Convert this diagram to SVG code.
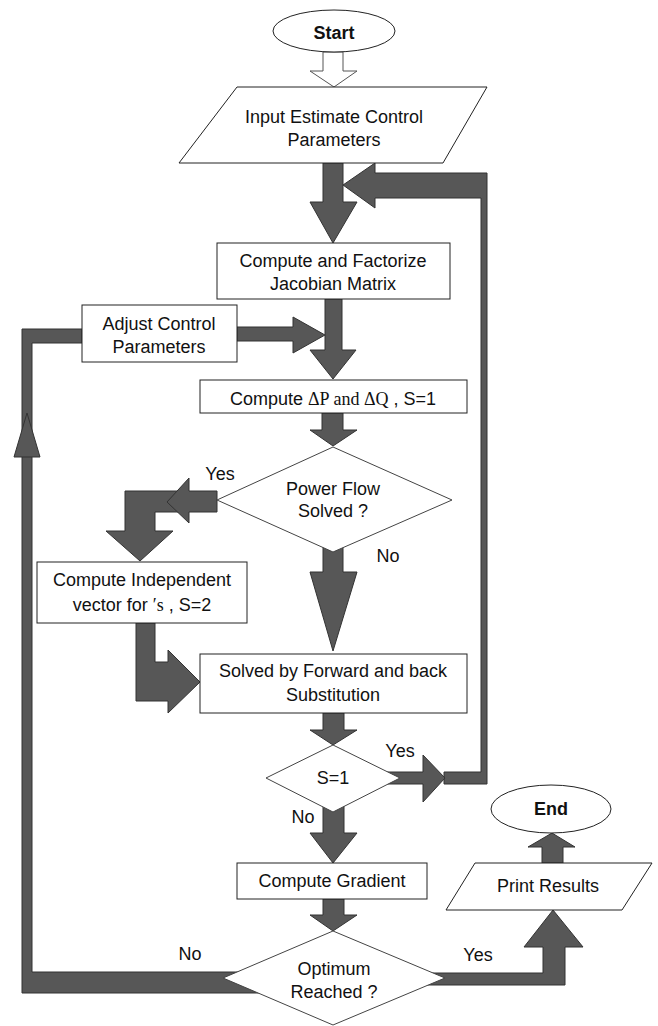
<svg xmlns="http://www.w3.org/2000/svg" width="658" height="1026" viewBox="0 0 658 1026">
<style>
.box{fill:#fff;stroke:#222;stroke-width:1}
.dia{fill:#fff;stroke:#444;stroke-width:1}
.arr{fill:#575757;stroke:#333;stroke-width:1;stroke-linejoin:miter}
.hollow{fill:#fff;stroke:#555;stroke-width:1}
.t{font-family:"Liberation Sans",Arial,sans-serif;font-size:18px;fill:#111;text-anchor:middle}
.b{font-weight:bold}
.m{font-family:"Liberation Serif","Times New Roman",serif}
</style>
<rect width="658" height="1026" fill="#fff"/>
<g id="connectors">
  <!-- Start -> Input (hollow) -->
  <polygon class="hollow" points="323,52 343,52 343,71 357,71 334,87 310,71 323,71"/>
  <!-- Input -> Jacobian -->
  <polygon class="arr" points="323,163 343,163 343,202 357,202 333,243 310,202 323,202"/>
  <!-- feedback loop from S=1 yes back to top -->
  <polygon class="arr" points="375,173 487,173 487,784 444,784 444,772 481,772 481,198 375,198 375,208 343,185 375,163"/>
  <!-- Jacobian -> dP -->
  <polygon class="arr" points="325,299 342,299 342,350 356,350 333,379 310,350 325,350"/>
  <!-- Adjust -> dP -->
  <polygon class="arr" points="237,327 293,327 293,317 325,335 293,353 293,341 237,341"/>
  <!-- Left loop: Optimum No -> Adjust -->
  <polygon class="arr" points="82,329 22,329 22,993 260,993 260,972 32,972 32,343 82,343"/>
  <polygon class="arr" points="27,413 40,457 14,457"/>
  <!-- dP -> Power Flow -->
  <polygon class="arr" points="322,413 343,413 343,430 357,430 333,446 310,430 322,430"/>
  <!-- Power Flow Yes -> Independent -->
  <polygon class="arr" points="189,491 125,491 125,531 106,531 140,561 173,531 155,531 155,512 189,512"/>
  <polygon class="arr" points="217,491 189,491 189,478 167,502 189,523 189,512 217,512"/>
  <!-- Power Flow No -> Solved -->
  <polygon class="arr" points="323,545 343,545 343,572 357,572 333,651 310,572 323,572"/>
  <!-- Independent -> Solved -->
  <polygon class="arr" points="136,623 155,623 155,662 168,662 168,650 200,682 168,713 168,701 136,701"/>
  <!-- Solved -> S=1 -->
  <polygon class="arr" points="323,713 344,713 344,730 357,730 333,745 310,730 323,730"/>
  <!-- S=1 Yes -->
  <polygon class="arr" points="387,772 423,772 423,755 445,778 423,802 423,784 387,784"/>
  <!-- S=1 No -> Gradient -->
  <polygon class="arr" points="323,805 344,805 344,833 357,833 333,863 310,833 323,833"/>
  <!-- Gradient -> Optimum -->
  <polygon class="arr" points="323,899 344,899 344,915 357,915 333,931 310,915 323,915"/>
  <!-- Optimum Yes -> Print -->
  <polygon class="arr" points="400,973 543,973 543,947 524,947 553,910 583,947 565,947 565,985 400,985"/>
  <!-- Print -> End -->
  <polygon class="arr" points="542,863 563,863 563,847 575,847 552,833 528,847 542,847"/>
  <!-- labels -->
  <text class="t" x="220" y="480">Yes</text>
  <text class="t" x="388" y="562">No</text>
  <text class="t" x="400" y="757">Yes</text>
  <text class="t" x="303" y="823">No</text>
  <text class="t" x="478" y="961">Yes</text>
  <text class="t" x="190" y="960">No</text>
</g>
<g id="start">
  <ellipse cx="334" cy="31" rx="61" ry="21" class="box" stroke="#555"/>
  <text class="t b" x="334" y="39" font-size="19">Start</text>
</g>
<g id="input">
  <polygon class="box" points="237,87 487,87 443,163 179,163"/>
  <text class="t" x="334" y="123">Input Estimate Control</text>
  <text class="t" x="334" y="146">Parameters</text>
</g>
<g id="jacobian">
  <rect class="box" x="217" y="243" width="233" height="56"/>
  <text class="t" x="333" y="267">Compute and Factorize</text>
  <text class="t" x="333" y="290">Jacobian Matrix</text>
</g>
<g id="adjust">
  <rect class="box" x="82" y="305" width="155" height="57"/>
  <text class="t" x="159" y="330">Adjust Control</text>
  <text class="t" x="159" y="353">Parameters</text>
</g>
<g id="deltaPQ">
  <rect class="box" x="200" y="380" width="267" height="33"/>
  <text class="t" x="333" y="405">Compute <tspan class="m">ΔP and ΔQ</tspan> , S=1</text>
</g>
<g id="powerflow">
  <polygon class="dia" points="333,447 452,500 333,552 217,500"/>
  <text class="t" x="333" y="495">Power Flow</text>
  <text class="t" x="333" y="517">Solved ?</text>
</g>
<g id="independent">
  <rect class="box" x="37" y="562" width="210" height="61"/>
  <text class="t" x="142" y="586">Compute Independent</text>
  <text class="t" x="142" y="611">vector for <tspan class="m">′s</tspan> , S=2</text>
</g>
<g id="solved">
  <rect class="box" x="200" y="654" width="267" height="59"/>
  <text class="t" x="333" y="677">Solved by Forward and back</text>
  <text class="t" x="333" y="701">Substitution</text>
</g>
<g id="s1">
  <polygon class="dia" points="333,745 400,778 333,812 266,778"/>
  <text class="t" x="333" y="784">S=1</text>
</g>
<g id="gradient">
  <rect class="box" x="237" y="863" width="190" height="36"/>
  <text class="t" x="332" y="887">Compute Gradient</text>
</g>
<g id="optimum">
  <polygon class="dia" points="333,931 445,978 333,1025 223,978"/>
  <text class="t" x="334" y="975">Optimum</text>
  <text class="t" x="334" y="998">Reached ?</text>
</g>
<g id="print">
  <polygon class="box" points="475,863 652,863 622,910 446,910"/>
  <text class="t" x="548" y="892">Print Results</text>
</g>
<g id="end">
  <ellipse cx="551" cy="809" rx="60" ry="24" class="box" stroke="#555"/>
  <text class="t b" x="551" y="815" font-family="Lato,'Open Sans',sans-serif">End</text>
</g>
</svg>
